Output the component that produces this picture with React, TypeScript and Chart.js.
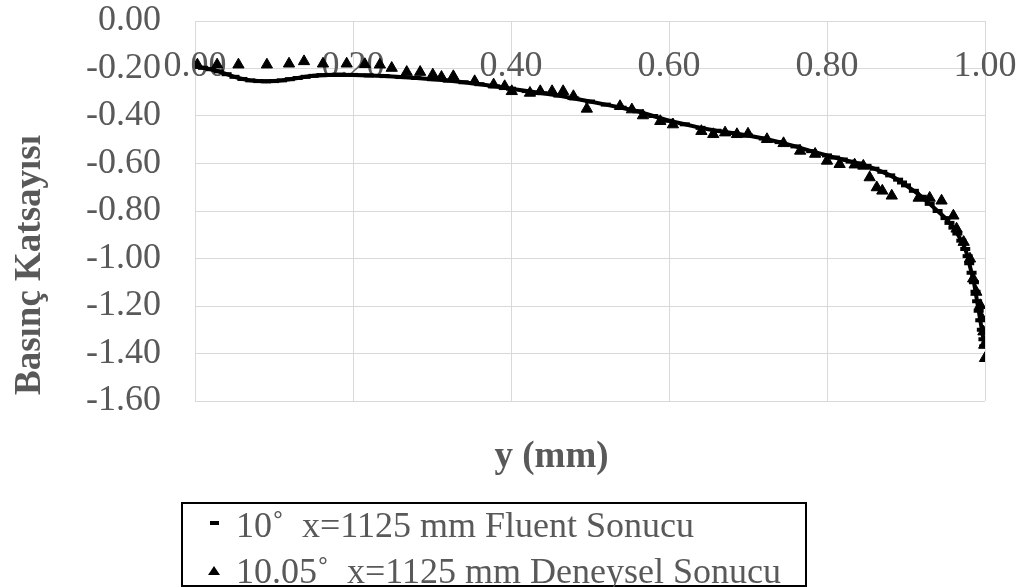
import React, { useEffect, useRef } from "react";
import { Chart, registerables } from "chart.js";

Chart.register(...registerables);

// ---- Data ----
const FLUENT_Y = [
  0.0, 0.01, 0.02, 0.03, 0.04, 0.05, 0.06, 0.07, 0.08, 0.09, 0.1, 0.11, 0.12, 0.13,
  0.14, 0.15, 0.16, 0.17, 0.18, 0.2, 0.22, 0.24, 0.26, 0.28, 0.3, 0.32, 0.34, 0.36,
  0.38, 0.4, 0.42, 0.44, 0.46, 0.48, 0.5, 0.52, 0.54, 0.56, 0.58, 0.6, 0.62, 0.64,
  0.66, 0.68, 0.7, 0.72, 0.74, 0.76, 0.78, 0.8, 0.81, 0.82, 0.83, 0.84, 0.85, 0.86,
  0.87, 0.88, 0.89, 0.895, 0.9, 0.91, 0.92, 0.93, 0.94, 0.95, 0.955, 0.96, 0.965,
  0.97, 0.975, 0.978, 0.98, 0.983, 0.986, 0.988, 0.99, 0.992, 0.994, 0.996, 0.998, 0.999,
];
const FLUENT_CP = [
  -0.192, -0.197, -0.203, -0.212, -0.224, -0.235, -0.244, -0.25, -0.253, -0.254, -0.253,
  -0.25, -0.245, -0.24, -0.235, -0.231, -0.228, -0.227, -0.226, -0.227, -0.229, -0.232,
  -0.236, -0.24, -0.245, -0.251, -0.258, -0.266, -0.275, -0.285, -0.295, -0.304, -0.314,
  -0.326, -0.339, -0.352, -0.365, -0.38, -0.4, -0.42, -0.435, -0.45, -0.462, -0.472,
  -0.482, -0.495, -0.51, -0.528, -0.548, -0.566, -0.575, -0.583, -0.592, -0.6, -0.61,
  -0.622, -0.635, -0.65, -0.668, -0.68, -0.692, -0.715, -0.74, -0.77, -0.8, -0.83,
  -0.85, -0.87, -0.895, -0.925, -0.96, -0.99, -1.02, -1.06, -1.1, -1.14, -1.18, -1.22,
  -1.26, -1.3, -1.34, -1.37,
];

const EXP_Y = [
  0.003, 0.028, 0.055, 0.091, 0.119, 0.138, 0.162, 0.192, 0.215, 0.234, 0.249, 0.268,
  0.285, 0.301, 0.312, 0.327, 0.354, 0.378, 0.392, 0.401, 0.424, 0.437, 0.452, 0.466,
  0.479, 0.496, 0.538, 0.553, 0.567, 0.589, 0.605, 0.641, 0.656, 0.671, 0.686, 0.7,
  0.724, 0.745, 0.766, 0.785, 0.8, 0.816, 0.835, 0.846, 0.854, 0.863, 0.87, 0.882,
  0.916, 0.93, 0.945, 0.96, 0.964, 0.973, 0.981, 0.985, 0.989, 0.994, 0.996, 0.998,
  0.999, 1.0,
];
const EXP_CP = [
  -0.184, -0.184, -0.184, -0.184, -0.18, -0.17, -0.18, -0.18, -0.182, -0.184, -0.198,
  -0.215, -0.215, -0.226, -0.236, -0.233, -0.254, -0.268, -0.275, -0.296, -0.303, -0.296,
  -0.296, -0.296, -0.317, -0.37, -0.359, -0.373, -0.398, -0.422, -0.436, -0.464, -0.477,
  -0.47, -0.477, -0.475, -0.498, -0.515, -0.547, -0.56, -0.589, -0.603, -0.605, -0.61,
  -0.659, -0.701, -0.715, -0.736, -0.745, -0.745, -0.757, -0.82, -0.875, -0.931, -1.001,
  -1.085, -1.141, -1.197, -1.252, -1.308, -1.364, -1.42,
];

const SERIES_LABELS = [
  "10\u02DA  x=1125 mm Fluent Sonucu",
  "10.05\u02DA  x=1125 mm Deneysel Sonucu",
];
const X_TITLE = "y (mm)";
const Y_TITLE = "Basınç Katsayısı";

const FONT = "'Liberation Serif', 'Times New Roman', serif";
const GREY = "#595959";
const GRID = "#d9d9d9";

const titlePlugin = {
  id: "axisTitles",
  afterDraw(chart: any) {
    const ctx = chart.ctx;
    ctx.save();
    ctx.fillStyle = GREY;
    ctx.font = `bold 37px ${FONT}`;
    ctx.textAlign = "center";
    ctx.textBaseline = "alphabetic";
    ctx.fillText(X_TITLE, 551.5, 467);
    ctx.translate(40, 265);
    ctx.rotate(-Math.PI / 2);
    ctx.fillText(Y_TITLE, 0, 0);
    ctx.restore();
  },
};

export default function App() {
  const canvasRef = useRef<HTMLCanvasElement>(null);

  useEffect(() => {
    document.body.style.margin = "0";
    const canvas = canvasRef.current;
    if (!canvas) return;
    const chart = new Chart(canvas, {
      type: "scatter",
      data: {
        datasets: [
          {
            label: SERIES_LABELS[1],
            data: EXP_Y.map((x, i) => ({ x, y: EXP_CP[i] })),
            pointStyle: "triangle",
            pointRadius: 6.5,
            pointBackgroundColor: "#000",
            pointBorderColor: "#000",
            pointBorderWidth: 1,
            showLine: false,
            order: 0,
          },
          {
            label: SERIES_LABELS[0],
            data: FLUENT_Y.map((x, i) => ({ x, y: FLUENT_CP[i] })),
            pointStyle: "line",
            pointRadius: 5,
            pointBorderColor: "#000",
            pointBorderWidth: 4,
            showLine: true,
            borderColor: "#000",
            borderWidth: 4,
            order: 1,
          },
        ],
      },
      options: {
        animation: false,
        responsive: false,
        layout: { padding: { left: 0, top: 21, right: 38, bottom: 186 } },
        plugins: {
          legend: { display: false },
          tooltip: { enabled: false },
        },
        scales: {
          x: {
            type: "linear",
            position: { y: -0.2 } as any,
            min: 0,
            max: 1,
            ticks: {
              stepSize: 0.2,
              padding: -24,
              color: GREY,
              font: { family: FONT, size: 36 },
              callback: (v: any) => Number(v).toFixed(2),
              maxRotation: 0,
            },
            grid: { color: GRID, lineWidth: 1, drawTicks: false },
            border: { display: false },
            afterFit: (s: any) => {
              s.height = 0;
              s.paddingLeft = 0;
              s.paddingRight = 0;
            },
          },
          y: {
            type: "linear",
            position: "left",
            min: -1.6,
            max: 0,
            ticks: {
              stepSize: 0.2,
              padding: 34,
              color: GREY,
              font: { family: FONT, size: 36 },
              callback: (v: any) => Number(v).toFixed(2),
            },
            grid: { color: GRID, lineWidth: 1, drawTicks: false },
            border: { display: false },
            afterFit: (s: any) => {
              s.width = 195;
              s.paddingTop = 0;
              s.paddingBottom = 0;
            },
          },
        },
      },
      plugins: [titlePlugin],
    });
    return () => chart.destroy();
  }, []);

  const rowStyle: React.CSSProperties = {
    position: "absolute",
    left: 236,
    fontFamily: FONT,
    fontSize: 36,
    lineHeight: "36px",
    color: GREY,
    whiteSpace: "pre",
  };

  return (
    <div style={{ position: "absolute", left: 0, top: 0, width: 1023, height: 587, background: "#fff" }}>
      <canvas ref={canvasRef} width={1023} height={587} style={{ display: "block" }} />
      <div
        style={{
          position: "absolute",
          left: 181,
          top: 502,
          width: 626,
          height: 85,
          border: "2px solid #000",
          boxSizing: "border-box",
        }}
      />
      <div style={{ position: "absolute", left: 210, top: 521, width: 9, height: 4, background: "#000" }} />
      <div
        style={{
          position: "absolute",
          left: 208,
          top: 566,
          width: 0,
          height: 0,
          borderLeft: "6px solid transparent",
          borderRight: "6px solid transparent",
          borderBottom: "9px solid #000",
        }}
      />
      <div style={{ ...rowStyle, top: 507 }}>{SERIES_LABELS[0]}</div>
      <div style={{ ...rowStyle, top: 553 }}>{SERIES_LABELS[1]}</div>
    </div>
  );
}
